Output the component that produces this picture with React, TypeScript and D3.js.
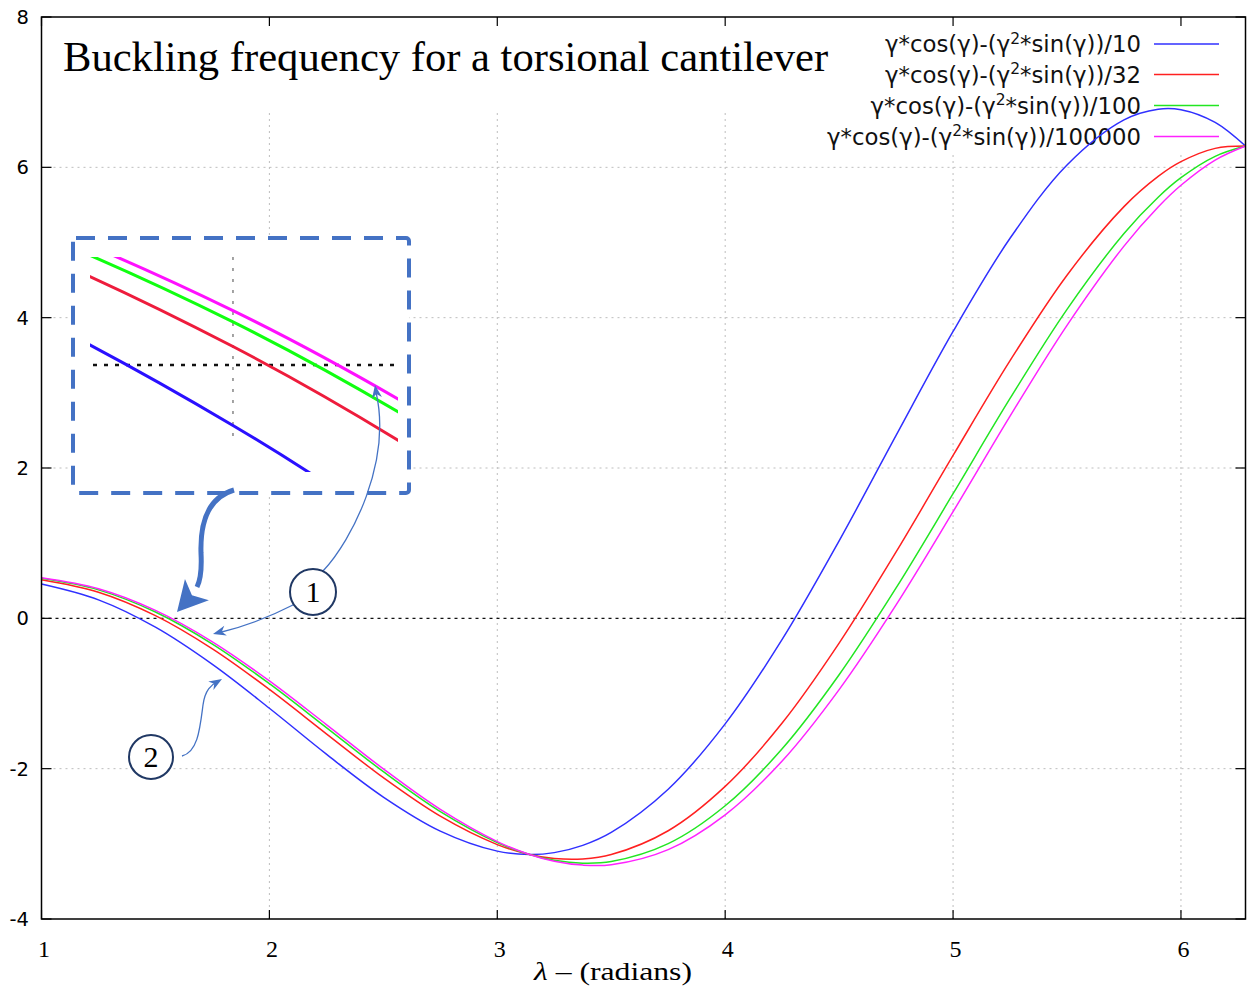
import React from "react";
import * as d3 from "d3";

// Sample abscissae (radians) and the four curves of the legend, one value per sample.
const lambdaSamples = [
  1, 1.25, 1.5, 1.75, 2, 2.25, 2.5, 2.75, 3, 3.1416, 3.25, 3.375, 3.5, 3.75,
  4, 4.25, 4.5, 4.75, 5, 5.25, 5.5, 5.75, 5.9, 6, 6.15, 6.2832,
];

const seriesDiv10 = [
  0.456, 0.246, -0.118, -0.613, -1.196, -1.807, -2.377, -2.83, -3.097, -3.142,
  -3.117, -3.02, -2.848, -2.273, -1.404, -0.281, 1.031, 2.433, 3.816, 5.056,
  6.032, 6.632, 6.774, 6.767, 6.598, 6.283,
];

const seriesDiv32 = [
  0.514, 0.348, 0.036, -0.406, -0.946, -1.536, -2.12, -2.632, -3.01, -3.142,
  -3.195, -3.201, -3.143, -2.826, -2.236, -1.393, -0.33, 0.883, 2.167, 3.428,
  4.565, 5.477, 5.879, 6.075, 6.252, 6.283,
];

const seriesDiv100 = [
  0.532, 0.379, 0.084, -0.342, -0.869, -1.453, -2.04, -2.571, -2.983, -3.142,
  -3.219, -3.257, -3.235, -2.997, -2.493, -1.736, -0.751, 0.404, 1.658, 2.925,
  4.111, 5.12, 5.602, 5.862, 6.146, 6.283,
];

const seriesDiv100000 = [
  0.54, 0.394, 0.106, -0.312, -0.832, -1.413, -2.003, -2.542, -2.97, -3.142,
  -3.231, -3.283, -3.278, -3.077, -2.614, -1.898, -0.948, 0.179, 1.419, 2.689,
  3.898, 4.952, 5.472, 5.761, 6.096, 6.283,
];

const divisors = ["10", "32", "100", "100000"];
const seriesColors = ["#3030ff", "#ff2020", "#22e622", "#ff22ff"];
const insetColors = ["#2a10ff", "#ee1c3c", "#10ff10", "#ff10ff"];

const xTicks = [1, 2, 3, 4, 5, 6];
const yTicks = [-4, -2, 0, 2, 4, 6, 8];

const titleText = "Buckling frequency for a torsional cantilever";
const xAxisSymbol = "\u03bb";
const xAxisUnit = " \u2013 (radians)";

const ACCENT = "#4472C4";
const NAVY = "#203864";

function arrowHead(tx: number, ty: number, fx: number, fy: number, len: number, half: number, notch = 0.3) {
  const dx = tx - fx;
  const dy = ty - fy;
  const n = Math.hypot(dx, dy) || 1;
  const ux = dx / n;
  const uy = dy / n;
  const bx = tx - ux * len;
  const by = ty - uy * len;
  const px = -uy;
  const py = ux;
  const nx = tx - ux * len * (1 - notch);
  const ny = ty - uy * len * (1 - notch);
  return [
    [tx, ty],
    [bx + px * half, by + py * half],
    [nx, ny],
    [bx - px * half, by - py * half],
  ]
    .map((p) => p.join(","))
    .join(" ");
}

export default function App() {
  const W = 1248;
  const H = 989;
  const left = 41.5;
  const right = 1245.5;
  const top = 17;
  const bottom = 919;

  const x = d3.scaleLinear().domain([1, 2 * Math.PI]).range([left, right]);
  const y = d3.scaleLinear().domain([-4, 8]).range([bottom, top]);

  const series = [seriesDiv10, seriesDiv32, seriesDiv100, seriesDiv100000];

  const line = d3
    .line<number>()
    .x((_, i) => x(lambdaSamples[i]))
    .y((d) => y(d))
    .curve(d3.curveCatmullRom.alpha(0.5));

  // Magnified view of the region where the curves first cross zero
  const insetBox = { x0: 73, y0: 238, x1: 409, y1: 493 };
  const insetArea = { x0: 90, y0: 257, x1: 398, y1: 472 };
  const ix = d3.scaleLinear().domain([1.4034, 1.6115]).range([insetArea.x0, insetArea.x1]);
  const iy = d3.scaleLinear().domain([-0.2086, 0.2105]).range([insetArea.y1, insetArea.y0]);
  const insetLine = d3
    .line<number>()
    .x((_, i) => ix(lambdaSamples[i]))
    .y((d) => iy(d))
    .curve(d3.curveCatmullRom.alpha(0.5));

  const serif = "'Liberation Serif', 'Times New Roman', serif";
  const sans = "'DejaVu Sans', Verdana, sans-serif";

  const legendX = 1141;
  const legendRows = [44, 74.5, 105.5, 136.5];

  return (
    <svg
      width={W}
      height={H}
      viewBox={`0 0 ${W} ${H}`}
      style={{ position: "absolute", left: 0, top: 0, display: "block", background: "#fff" }}
    >
      <defs>
        <clipPath id="plotClip">
          <rect x={left} y={top} width={right - left} height={bottom - top} />
        </clipPath>
        <clipPath id="insetClip">
          <rect
            x={insetArea.x0}
            y={insetArea.y0}
            width={insetArea.x1 - insetArea.x0}
            height={insetArea.y1 - insetArea.y0}
          />
        </clipPath>
      </defs>
      <rect x={0} y={0} width={W} height={H} fill="#fff" />

      {/* grid */}
      <g stroke="#bdbdbd" strokeWidth={1} strokeDasharray="2,4">
        {xTicks
          .filter((t) => t > 1)
          .map((t) => (
            <line key={`gx${t}`} x1={x(t)} x2={x(t)} y1={top} y2={bottom} />
          ))}
        {yTicks
          .filter((t) => t !== 0 && t > -4 && t < 8)
          .map((t) => (
            <line key={`gy${t}`} x1={left} x2={right} y1={y(t)} y2={y(t)} />
          ))}
      </g>

      {/* opaque boxes behind title and key */}
      <rect x={left + 1} y={top + 1} width={800} height={92} fill="#fff" />
      <rect x={826} y={top + 1} width={right - 827} height={133} fill="#fff" />

      {/* zero axis */}
      <line
        x1={left}
        x2={right}
        y1={y(0)}
        y2={y(0)}
        stroke="#111"
        strokeWidth={1.3}
        strokeDasharray="3,4"
      />

      {/* title */}
      <text x={63} y={71} fontFamily={serif} fontSize={42.6} fill="#000">
        {titleText}
      </text>

      {/* key */}
      {divisors.map((dv, i) => (
        <g key={`key${dv}`}>
          <text
            x={legendX}
            y={legendRows[i] + 8}
            textAnchor="end"
            fontFamily={sans}
            fontSize={22.8}
            fill="#111"
          >
            {"\u03b3*cos(\u03b3)-(\u03b3"}
            <tspan fontSize={15.5} dy={-8.5}>
              2
            </tspan>
            <tspan dy={8.5}>{`*sin(\u03b3))/${dv}`}</tspan>
          </text>
          <line
            x1={1154}
            x2={1219}
            y1={legendRows[i]}
            y2={legendRows[i]}
            stroke={seriesColors[i]}
            strokeWidth={1.5}
          />
        </g>
      ))}

      {/* curves */}
      <g clipPath="url(#plotClip)" fill="none">
        {series.map((s, i) => (
          <path key={`c${i}`} d={line(s) ?? ""} stroke={seriesColors[i]} strokeWidth={1.5} />
        ))}
      </g>

      {/* border and ticks */}
      <rect
        x={left}
        y={top}
        width={right - left}
        height={bottom - top}
        fill="none"
        stroke="#000"
        strokeWidth={1.5}
      />
      <g stroke="#000" strokeWidth={1.2}>
        {xTicks.map((t) => (
          <g key={`tx${t}`}>
            <line x1={x(t)} x2={x(t)} y1={bottom} y2={bottom - 9} />
            <line x1={x(t)} x2={x(t)} y1={top} y2={top + 9} />
          </g>
        ))}
        {yTicks.map((t) => (
          <g key={`ty${t}`}>
            <line x1={left} x2={left + 10} y1={y(t)} y2={y(t)} />
            <line x1={right} x2={right - 10} y1={y(t)} y2={y(t)} />
          </g>
        ))}
      </g>

      {/* tick labels */}
      {yTicks.map((t) => (
        <text
          key={`ly${t}`}
          x={29}
          y={y(t) + 7}
          textAnchor="end"
          fontFamily={sans}
          fontSize={19.5}
          fill="#000"
        >
          {t}
        </text>
      ))}
      {xTicks.map((t) => (
        <text
          key={`lx${t}`}
          x={x(t) + 2.5}
          y={957}
          textAnchor="middle"
          fontFamily={serif}
          fontSize={24}
          fill="#000"
        >
          {t}
        </text>
      ))}
      <text
        x={613}
        y={980}
        textAnchor="middle"
        fontFamily={serif}
        fontSize={26}
        textLength={158}
        lengthAdjust="spacingAndGlyphs"
        fill="#000"
      >
        <tspan fontStyle="italic">{xAxisSymbol}</tspan>
        {xAxisUnit}
      </text>

      {/* inset */}
      <rect
        x={insetBox.x0}
        y={insetBox.y0}
        width={insetBox.x1 - insetBox.x0}
        height={insetBox.y1 - insetBox.y0}
        fill="#fff"
        stroke={ACCENT}
        strokeWidth={4}
        strokeDasharray="19,13"
        rx={3}
      />
      <g clipPath="url(#insetClip)">
        <line
          x1={ix(1.5)}
          x2={ix(1.5)}
          y1={insetArea.y0}
          y2={438}
          stroke="#9a9a9a"
          strokeWidth={1.8}
          strokeDasharray="3,8"
        />
        <line
          x1={insetArea.x0 + 3}
          x2={insetArea.x1}
          y1={iy(0)}
          y2={iy(0)}
          stroke="#111"
          strokeWidth={2.6}
          strokeDasharray="4,7"
        />
        {series.map((s, i) => (
          <path
            key={`ic${i}`}
            d={insetLine(s.slice(0, 5)) ?? ""}
            fill="none"
            stroke={insetColors[i]}
            strokeWidth={3}
          />
        ))}
      </g>

      {/* callouts */}
      <g fill="none" stroke={ACCENT}>
        <path d="M 234 490 C 210 497 200 520 201 553 C 202 572 200 581 197 587" strokeWidth={5} />
        <path d="M 295 604 Q 256 624 218 633" strokeWidth={1.3} />
        <path d="M 323 571 C 352 540 392 462 376 392" strokeWidth={1.3} />
        <path d="M 182 756 C 198 752 200 728 203 705 C 205 690 211 685 218 681" strokeWidth={1.3} />
      </g>
      <g fill={ACCENT}>
        <polygon points={arrowHead(177, 612, 201, 585, 30, 16, 0.25)} />
        <polygon points={arrowHead(213, 634, 228, 630, 13, 5)} />
        <polygon points={arrowHead(375, 385, 377, 398, 13, 5)} />
        <polygon points={arrowHead(222, 679, 212, 685, 13, 5)} />
      </g>

      <g fill="#fff" stroke={NAVY} strokeWidth={2}>
        <circle cx={313} cy={592} r={23} />
        <circle cx={151} cy={757} r={22} />
      </g>
      <text x={313} y={602} textAnchor="middle" fontFamily={serif} fontSize={30} fill="#000">
        1
      </text>
      <text x={151} y={767} textAnchor="middle" fontFamily={serif} fontSize={30} fill="#000">
        2
      </text>
    </svg>
  );
}
